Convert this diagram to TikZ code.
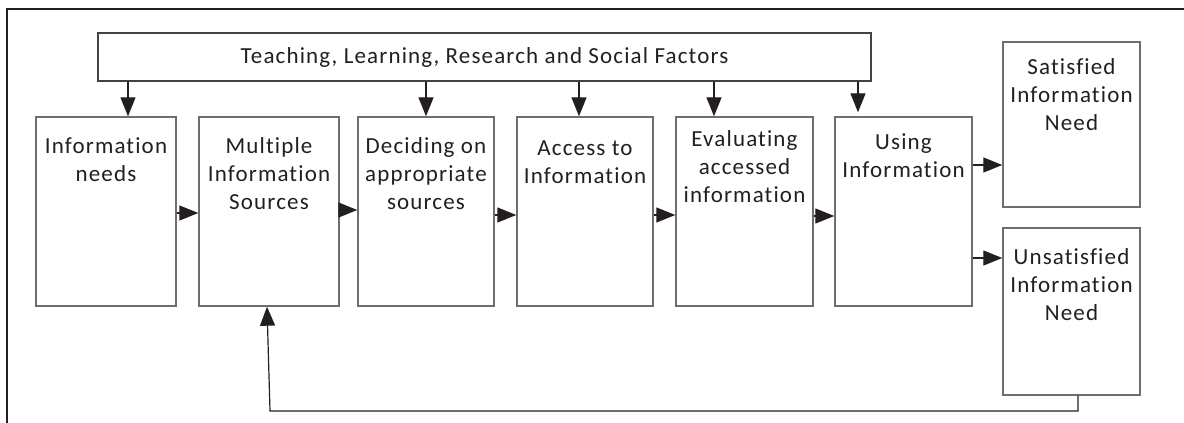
\documentclass[tikz,border=0pt]{standalone}
\usepackage{fontspec}
\setmainfont{Carlito}[LetterSpace=5.0, Ligatures={NoCommon,NoContextual,NoRare}]
\usetikzlibrary{arrows.meta}
\definecolor{ink}{HTML}{231F20}
\definecolor{edge}{HTML}{6E6E6E}
\tikzset{
  box/.style={draw=edge, line width=0.7pt, minimum height=94.5pt, inner sep=0pt},
  topbox/.style={draw=ink!85, line width=0.7pt, inner sep=0pt},
  lbl/.style={anchor=north, inner sep=0pt, align=center, text=ink,
    font=\fontsize{11.5}{14}\selectfont},
  arr/.style={draw=ink, line width=0.6pt,
    -{Triangle[length=9.5pt, width=7.5pt]}},
  frame/.style={draw=ink, line width=0.6pt},
}
\begin{document}
\begin{tikzpicture}[x=0.5pt, y=-0.5pt]
\useasboundingbox (0,0) rectangle (1184,423);
% outer frame (left and top edges)
\draw[frame] (7,423) -- (7,9) -- (1184,9);

% influencing factors
\node[topbox, minimum width=386.5pt, minimum height=24pt] (top) at (484.5,57) {};
\node[lbl, anchor=center] (ttop) at (top.center) {Teaching, Learning, Research and Social Factors};

% process stages
\node[box, minimum width=70pt] (b1) at (106,211.5) {};
\node[box, minimum width=70pt] (b2) at (269,211.5) {};
\node[box, minimum width=68pt] (b3) at (426,211.5) {};
\node[box, minimum width=68pt] (b4) at (585,211.5) {};
\node[box, minimum width=68.5pt] (b5) at (744.5,211.5) {};
\node[box, minimum width=68.5pt] (b6) at (903.5,211.5) {};

% outcomes
\node[box, minimum width=68.5pt, minimum height=82.5pt] (sat) at (1071.5,124.5) {};
\node[box, minimum width=68.5pt, minimum height=83.5pt] (unsat) at (1071.5,311.5) {};

% stage labels
\node[lbl] (t1) at (106,137) {Information\\needs};
\node[lbl] (t2) at (269,137) {Multiple\\Information\\Sources};
\node[lbl] (t3) at (426,137) {Deciding on\\appropriate\\sources};
\node[lbl] (t4) at (585,140) {Access to\\Information};
\node[lbl] (t5) at (744.5,130) {Evaluating\\accessed\\information};
\node[lbl] (t6) at (903.5,133) {Using\\Information};
\node[lbl] (t7) at (1071.5,58) {Satisfied\\Information\\Need};
\node[lbl] (t8) at (1071.5,248) {Unsatisfied\\Information\\Need};

% factors acting on the stages
\draw[arr] (top.south -| 128,0) -- (b1.north -| 128,0);
\draw[arr] (top.south -| 426,0) -- (b3.north -| 426,0);
\draw[arr] (top.south -| 579,0) -- (b4.north -| 579,0);
\draw[arr] (top.south -| 714,0) -- (b5.north -| 714,0);
\draw[arr] (top.south -| 858,0) -- ([yshift=2pt]b6.north -| 858,0);

% flow between stages
\draw[arr] (b1.east |- 0,213) -- (b2.west |- 0,213);
\draw[arr] (b2.east |- 0,210) -- (b3.west |- 0,210);
\draw[arr] (b3.east |- 0,215) -- (b4.west |- 0,215);
\draw[arr] (b4.east |- 0,215) -- (b5.west |- 0,215);
\draw[arr] (b5.east |- 0,216) -- (b6.west |- 0,216);

% outcomes of using information
\draw[arr] (b6.east |- 0,165) -- (sat.west |- 0,165);
\draw[arr] (b6.east |- 0,258) -- (unsat.west |- 0,258);

% feedback loop from an unsatisfied need
\draw[arr] (unsat.south -| 1078,0) -- (1078,411) -- (270,411) -- (b2.south -| 267,0);
\end{tikzpicture}
\end{document}
